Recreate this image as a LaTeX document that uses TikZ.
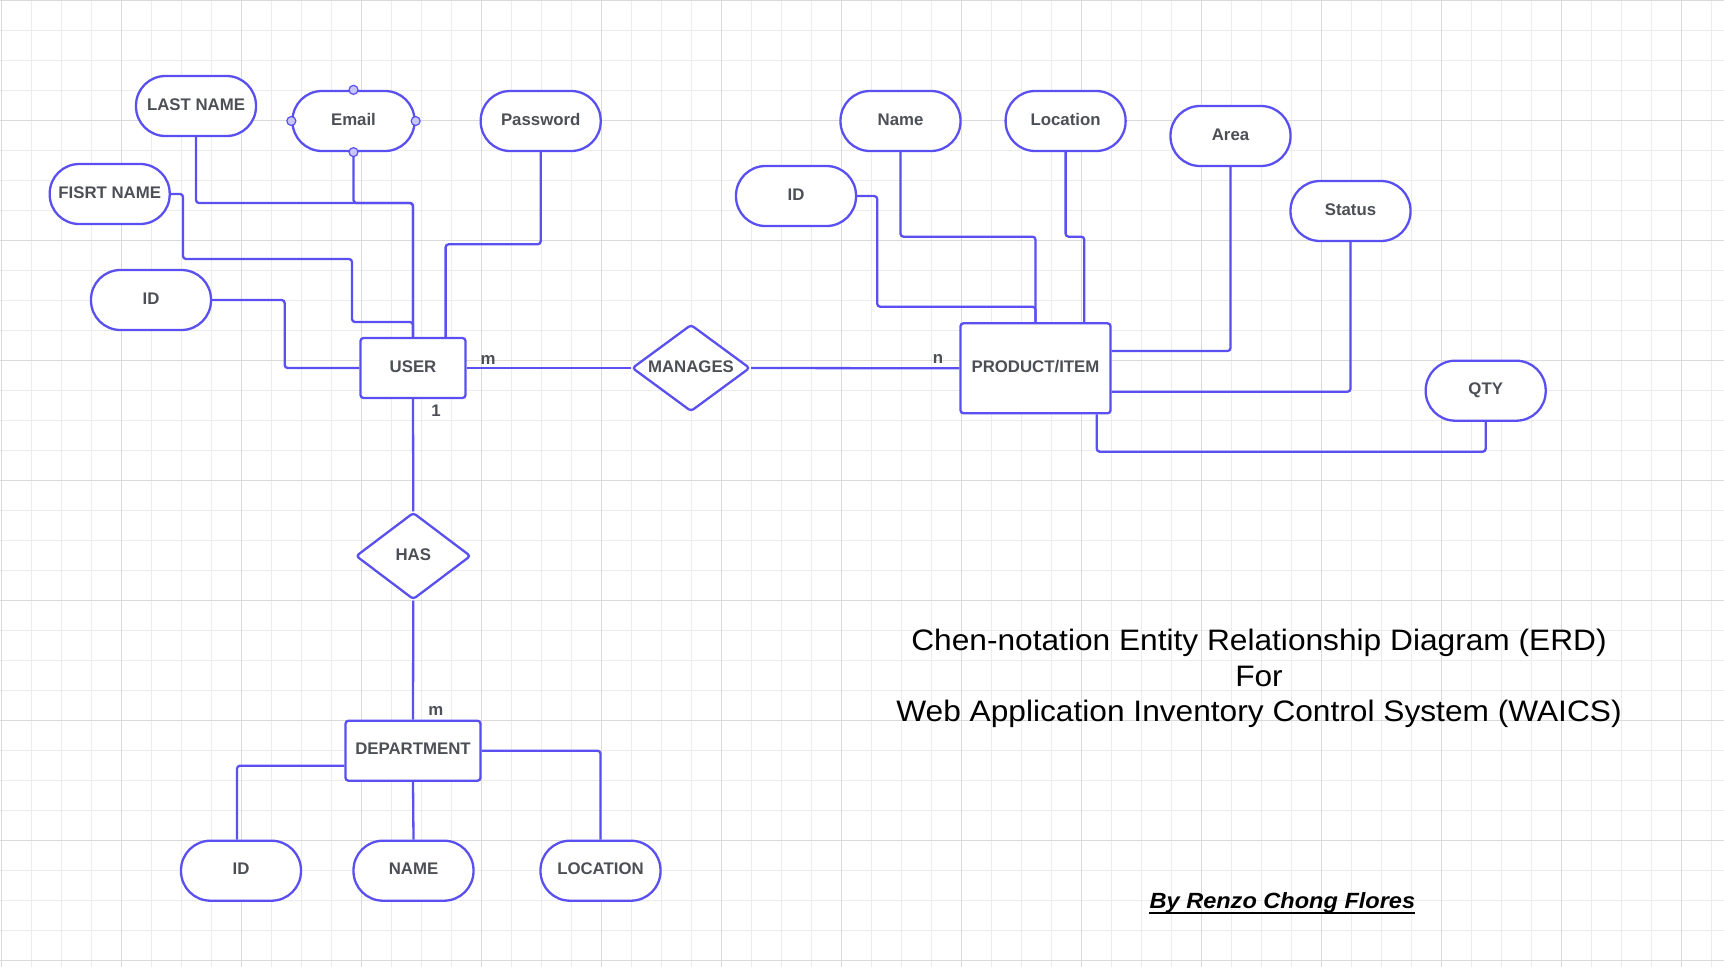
\documentclass[tikz,border=0pt]{standalone}
\usepackage{fontspec}
\setmainfont{Liberation Sans}
\newfontfamily\titlefont[FakeStretch=1.07]{Liberation Sans}
\usetikzlibrary{shapes.geometric}
\definecolor{erdblue}{RGB}{90,80,242}
\definecolor{erdtext}{RGB}{76,80,86}
\definecolor{gridminor}{RGB}{236,236,236}
\definecolor{gridmajor}{RGB}{218,218,218}
\definecolor{dotfill}{RGB}{200,198,248}
\begin{document}
\begin{tikzpicture}[x=1pt,y=-1pt,
  lbl/.style={font=\fontsize{16.8}{19}\selectfont\bfseries, text=erdtext},
  shp/.style={lbl, text height=12pt, text depth=4pt},
  attr/.style={shp, draw=erdblue, line width=2.3pt, fill=white, rounded corners=29.5pt, minimum width=120pt, minimum height=60pt, inner sep=0pt},
  entity/.style={shp, draw=erdblue, line width=2.3pt, fill=white, rounded corners=3pt, inner sep=0pt},
  relation/.style={shp, draw=erdblue, line width=2.3pt, fill=white, diamond, rounded corners=3pt, inner sep=0pt, aspect=1.35},
  conn/.style={draw=erdblue, line width=2.3pt, rounded corners=3pt},
  card/.style={lbl, inner sep=0pt},
  handle/.style={circle, draw=erdblue, fill=dotfill, line width=1.2pt, minimum size=9pt, inner sep=0pt},
]
\useasboundingbox (0,0) rectangle (1724,967);
\fill[white] (0,0) rectangle (1724,967);
% grid
\foreach \x in {1.7,31.7,...,1722} \draw[gridminor, line width=1pt] (\x,0) -- (\x,967);
\foreach \y in {0.7,30.7,...,966} \draw[gridminor, line width=1pt] (0,\y) -- (1724,\y);
\foreach \x in {1.7,121.7,...,1722} \draw[gridmajor, line width=1.2pt] (\x,0) -- (\x,967);
\foreach \y in {0.7,120.7,...,966} \draw[gridmajor, line width=1.2pt] (0,\y) -- (1724,\y);

% USER side
\node[entity, minimum width=105pt, minimum height=60pt] (user) at (413,368) {USER};
\node[attr] (uLast) at (196,106) {LAST NAME};
\node[attr, minimum width=122pt] (uEmail) at (353.5,121) {Email};
\node[attr] (uPass) at (540.7,121) {Password};
\node[attr] (uFirst) at (109.7,194) {FISRT NAME};
\node[attr] (uID) at (151,300) {ID};

% relationships
\node[relation, minimum width=118pt, minimum height=87pt] (manages) at (691,368) {MANAGES};
\node[relation, minimum width=115pt, minimum height=87pt] (has) at (413.3,556) {HAS};

% PRODUCT side
\node[entity, minimum width=150pt, minimum height=90pt] (product) at (1035.5,368.3) {PRODUCT/ITEM};
\node[attr] (pName) at (900.5,121) {Name};
\node[attr] (pLoc) at (1065.6,121) {Location};
\node[attr] (pArea) at (1230.5,136) {Area};
\node[attr] (pID) at (796,196) {ID};
\node[attr] (pStatus) at (1350.5,211) {Status};
\node[attr] (pQty) at (1485.7,390.7) {QTY};

% DEPARTMENT side
\node[entity, minimum width=135pt, minimum height=60pt] (dept) at (413,750.7) {DEPARTMENT};
\node[attr] (dID) at (241,870.7) {ID};
\node[attr] (dName) at (413.5,870.7) {NAME};
\node[attr] (dLoc) at (600.5,870.7) {LOCATION};

% connectors USER
\draw[conn] (uLast.south) -- (196,203) -- (413,203) -- (user.north);
\draw[conn] (uEmail.south) -- (353.5,203) -- (413,203) -- (user.north);
\draw[conn] (uFirst.east) -- (183,194) -- (183,259) -- (352,259) -- (352,322) -- (413,322) -- (user.north);
\draw[conn] (uID.east) -- (284.7,300) -- (284.7,368) -- (user.west);
\draw[conn] (uPass.south) -- (540.7,244.3) -- (445.6,244.3) -- ([xshift=32.6pt]user.north);
\draw[conn] (user.east) -- (manages.west);
\draw[conn] (manages.east) -- (product.west);
\draw[conn] (user.south) -- (has.north);
\draw[conn] (has.south) -- (dept.north);

% connectors PRODUCT
\draw[conn] (pID.east) -- (877.2,196) -- (877.2,306.7) -- (1035.5,306.7) -- (product.north);
\draw[conn] (pName.south) -- (900.5,236.7) -- (1035.5,236.7) -- (product.north);
\draw[conn] (pLoc.south) -- (1065.6,236.7) -- (1084.3,236.7) -- ([xshift=48.8pt]product.north);
\draw[conn] (pArea.south) -- (1230.5,351) -- ([yshift=17.3pt]product.east);
\draw[conn] (pStatus.south) -- (1350.5,391.7) -- ([yshift=-23.4pt]product.east);
\draw[conn] (pQty.south) -- (1485.7,451.7) -- (1096.8,451.7) -- ([xshift=61.3pt]product.south);

% connectors DEPARTMENT
\draw[conn] ([yshift=-15pt]dept.west) -- (237,765.7) -- ([xshift=-4pt]dID.north);
\draw[conn] (dept.south) -- (dName.north);
\draw[conn] (dept.east) -- (600.5,750.7) -- (dLoc.north);

% email handles
\node[handle] (hN) at (uEmail.north) {};
\node[handle] (hS) at (uEmail.south) {};
\node[handle] (hE) at (uEmail.east) {};
\node[handle] (hW) at (uEmail.west) {};

% cardinalities
\node[card] (c1) at (488,359.5) {m};
\node[card] (c2) at (938,359.3) {n};
\node[card] (c3) at (436,411) {1};
\node[card] (c4) at (435.8,711.4) {m};

% title
\node[anchor=base, inner sep=0pt, font=\titlefont\fontsize{29.6}{35}\selectfont] (t1) at (1259,650) {Chen-notation Entity Relationship Diagram (ERD)};
\node[anchor=base, inner sep=0pt, font=\titlefont\fontsize{29.6}{35}\selectfont] (t2) at (1259,686) {For};
\node[anchor=base, inner sep=0pt, font=\titlefont\fontsize{29.6}{35}\selectfont] (t3) at (1259,721.7) {Web Application Inventory Control System (WAICS)};

% author
\node[anchor=base, inner sep=0pt, font=\titlefont\fontsize{22}{26}\selectfont\bfseries\itshape] (author) at (1282.4,908) {By Renzo Chong Flores};
\draw[line width=2pt] ([yshift=-4.5pt]author.base west) -- ([yshift=-4.5pt]author.base east);
\end{tikzpicture}
\end{document}
